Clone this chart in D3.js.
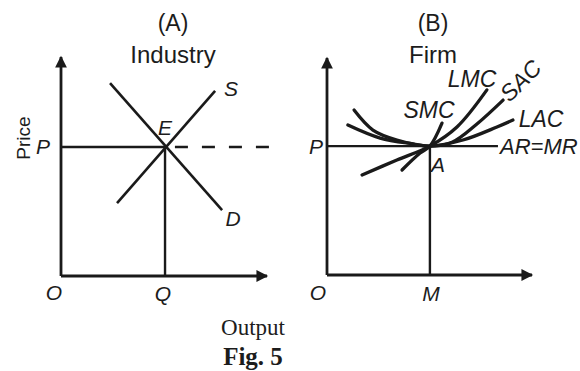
<!DOCTYPE html>
<html>
<head>
<meta charset="utf-8">
<script src="https://cdn.jsdelivr.net/npm/d3@7"></script>
<style>
  body { margin: 0; background: #fff; }
  svg { display: block; }
  .lbl { font-family: "Liberation Sans", Arial, sans-serif; font-style: italic; fill: #1c1c1c; }
  .ttl { font-family: "Liberation Sans", Arial, sans-serif; fill: #1c1c1c; }
</style>
</head>
<body>
<div id="chart"></div>
<script>
// panel A (industry) values, in axis units 0..10
const demandPts = [[2.38, 8.81], [7.82, 3.01]];
const supplyPts = [[2.72, 3.33], [7.48, 8.45]];
const equilA = [5.05, 5.89];
const dashA = [5.53, 10.24];

// panel B (firm) curves
const sacPts = [[1.32, 7.60], [2.24, 6.68], [3.41, 6.22], [5.02, 5.94], [6.10, 6.12], [7.30, 6.95], [8.59, 8.06]];
const lacPts = [[1.02, 6.91], [2.59, 6.31], [4.20, 6.04], [5.02, 5.94], [6.63, 6.22], [8.29, 6.82], [9.07, 7.14]];
const lmcPts = [[1.71, 4.61], [3.41, 5.30], [5.02, 5.94], [6.34, 6.82], [7.80, 8.53]];
const smcPts = [[3.66, 4.84], [4.54, 5.62], [5.02, 5.94], [5.61, 7.00]];
const equilB = [5.02, 5.94];
const arEndB = 8.34;

const titles = ["(A)", "(B)"];
const subTitles = ["Industry", "Firm"];

const W = 580, H = 371;
const ink = "#1a1a1a";

const svg = d3.select("#chart").append("svg")
  .attr("width", W).attr("height", H);

svg.append("defs").append("marker")
  .attr("id", "arr")
  .attr("viewBox", "0 0 10 10")
  .attr("refX", 9).attr("refY", 5)
  .attr("markerWidth", 4.6).attr("markerHeight", 4.2)
  .attr("markerUnits", "strokeWidth")
  .attr("orient", "auto")
  .append("path").attr("d", "M0,0 L10,5 L0,10 Z").attr("fill", ink);

// scales for the two panels
const xA = d3.scaleLinear().domain([0, 10]).range([61, 267]);
const yA = d3.scaleLinear().domain([0, 10]).range([276, 57]);
const xB = d3.scaleLinear().domain([0, 10]).range([327, 532]);
const yB = d3.scaleLinear().domain([0, 10]).range([275, 58]);

function axes(x, y) {
  svg.append("line")
    .attr("x1", x(0)).attr("y1", y(0)).attr("x2", x(0)).attr("y2", y(10))
    .attr("stroke", ink).attr("stroke-width", 2.8).attr("marker-end", "url(#arr)");
  svg.append("line")
    .attr("x1", x(0)).attr("y1", y(0)).attr("x2", x(10)).attr("y2", y(0))
    .attr("stroke", ink).attr("stroke-width", 2.8).attr("marker-end", "url(#arr)");
}

function seg(x, y, a, b, w, dash) {
  svg.append("line")
    .attr("x1", x(a[0])).attr("y1", y(a[1]))
    .attr("x2", x(b[0])).attr("y2", y(b[1]))
    .attr("stroke", ink).attr("stroke-width", w)
    .attr("stroke-dasharray", dash || null);
}

function text(cls, x, y, s, size, extra) {
  const t = svg.append("text").attr("class", cls)
    .attr("x", x).attr("y", y)
    .attr("text-anchor", "middle")
    .attr("font-size", size)
    .text(s);
  if (extra) extra(t);
  return t;
}

// ---- panel A
axes(xA, yA);
seg(xA, yA, [0, equilA[1]], equilA, 2.4);
seg(xA, yA, [equilA[0], 0], equilA, 2.4);
seg(xA, yA, [dashA[0], equilA[1]], [dashA[1], equilA[1]], 2.4, "13,14");
seg(xA, yA, demandPts[0], demandPts[1], 2.6);
seg(xA, yA, supplyPts[0], supplyPts[1], 2.6);

// ---- panel B
axes(xB, yB);
seg(xB, yB, [0, equilB[1]], [arEndB, equilB[1]], 2.4);
seg(xB, yB, [equilB[0], 0], equilB, 2.4);

const curve = d3.line()
  .x(d => xB(d[0])).y(d => yB(d[1]))
  .curve(d3.curveCatmullRom.alpha(0.5));

[sacPts, lacPts, lmcPts, smcPts].forEach(p => {
  svg.append("path").attr("d", curve(p))
    .attr("fill", "none").attr("stroke", ink)
    .attr("stroke-width", 3.3).attr("stroke-linecap", "round");
});

// ---- titles
titles.forEach((t, i) => text("ttl", i ? 433 : 173, 31, t, 23));
subTitles.forEach((t, i) => text("ttl", i ? 433 : 173, 63, t, 24));

// ---- point labels
text("lbl", 43, 154, "P", 21);
text("lbl", 165, 135, "E", 21);
text("lbl", 231, 96, "S", 21);
text("lbl", 233, 226, "D", 21);
text("lbl", 54, 300, "O", 21);
text("lbl", 163, 301, "Q", 21);
text("lbl", 316, 154, "P", 21);
text("lbl", 438, 172, "A", 21);
text("lbl", 318, 300, "O", 21);
text("lbl", 431, 301, "M", 21);
text("lbl", 429, 118, "SMC", 23);
text("lbl", 472, 87, "LMC", 23);
text("lbl", 541, 127, "LAC", 23);
text("lbl", 522, 82, "SAC", 23, t => t
  .attr("dominant-baseline", "middle")
  .attr("transform", "rotate(-45,522,82)"));
text("lbl", 500, 154, "AR=MR", 22, t => t.attr("text-anchor", "start"));

text("ttl", 25, 138, "Price", 19, t => t
  .attr("dominant-baseline", "middle")
  .attr("transform", "rotate(-90,25,138)"));

// ---- bottom captions
text("ttl", 253, 335, "Output", 23, t => t
  .style("font-family", "'Liberation Serif', 'Times New Roman', serif"));
text("ttl", 253, 365, "Fig. 5", 25, t => t
  .style("font-family", "'Liberation Serif', 'Times New Roman', serif")
  .style("font-weight", "bold"));
</script>
</body>
</html>
